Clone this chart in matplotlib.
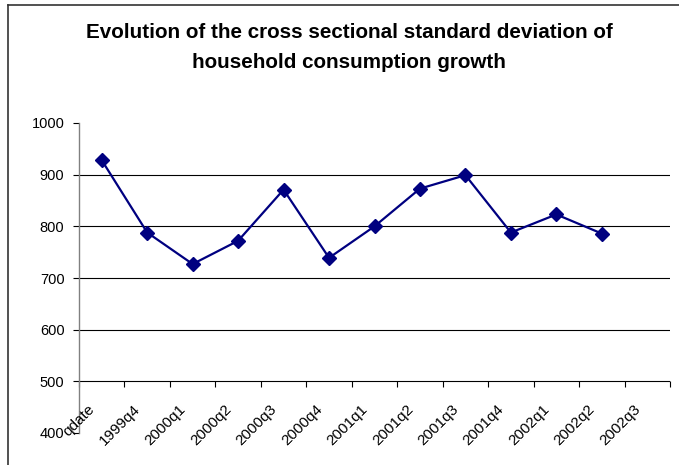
import matplotlib.pyplot as plt
import matplotlib.transforms as mtransforms
from matplotlib.lines import Line2D

plt.rcParams['font.family'] = ['Liberation Sans', 'DejaVu Sans']

# quarterly cross sectional std of consumption growth
quarters = ['qdate', '1999q4', '2000q1', '2000q2', '2000q3', '2000q4', '2001q1',
            '2001q2', '2001q3', '2001q4', '2002q1', '2002q2', '2002q3']
std_dev = [928, 788, 727, 772, 871, 739, 800, 873, 899, 788, 823, 786]
y_ticks = [400, 500, 600, 700, 800, 900, 1000]
grid_levels = [500, 600, 700, 800, 900]
axis_cross = 500

W, H = 679, 465
fig = plt.figure(figsize=(W / 100, H / 100), dpi=100)
ax = fig.add_axes([79 / W, (H - 433) / H, (670 - 79) / W, (433 - 123) / H])

n = len(quarters)
ax.set_xlim(-0.5, n - 0.5)
ax.set_ylim(y_ticks[0], y_ticks[-1])

for g in grid_levels:
    ax.axhline(g, color='black', lw=0.8, zorder=1)

# category axis crosses at 500, tick marks between categories
bounds = [k - 0.5 for k in range(n + 1)]
ax.plot(bounds, [axis_cross] * len(bounds), ls='none', marker=3, ms=4.3,
        mew=0.8, color='black', clip_on=False, zorder=2)

ax.plot(range(len(std_dev)), std_dev, color='#000080', lw=1.6,
        marker='D', ms=6.8, mec='#000080', zorder=3, clip_on=False)

for s in ['top', 'right', 'bottom']:
    ax.spines[s].set_visible(False)
ax.spines['left'].set_color('#808080')
ax.spines['left'].set_linewidth(1.0)

ax.set_yticks(y_ticks)
ax.set_yticklabels([str(v) for v in y_ticks], fontsize=10.5)
ax.tick_params(axis='y', length=4.5, width=0.8, color='black', pad=6)
ax.set_xticks([])

# rotated category labels sit near the bottom of the plot
lab_tr = ax.get_xaxis_transform() + mtransforms.ScaledTranslation(-14 / 100, 0, fig.dpi_scale_trans)
lab_y = (433 - 402) / (433 - 123)
for i, q in enumerate(quarters):
    ax.text(i, lab_y, q, transform=lab_tr, rotation=45, rotation_mode='anchor',
            ha='right', va='top', fontsize=11)

fig.text(349 / W, 1 - 32 / H, 'Evolution of the cross sectional standard deviation of',
         ha='center', va='center', fontsize=14.9, fontweight='bold')
fig.text(349 / W, 1 - 62 / H, 'household consumption growth',
         ha='center', va='center', fontsize=14.9, fontweight='bold')

# chart area border
fig.add_artist(Line2D([8 / W, 8 / W], [0, 1 - 5 / H], color='#333333', lw=1.2))
fig.add_artist(Line2D([8 / W, 1], [1 - 5 / H, 1 - 5 / H], color='#333333', lw=1.2))

fig.savefig('out.png', dpi=100)
